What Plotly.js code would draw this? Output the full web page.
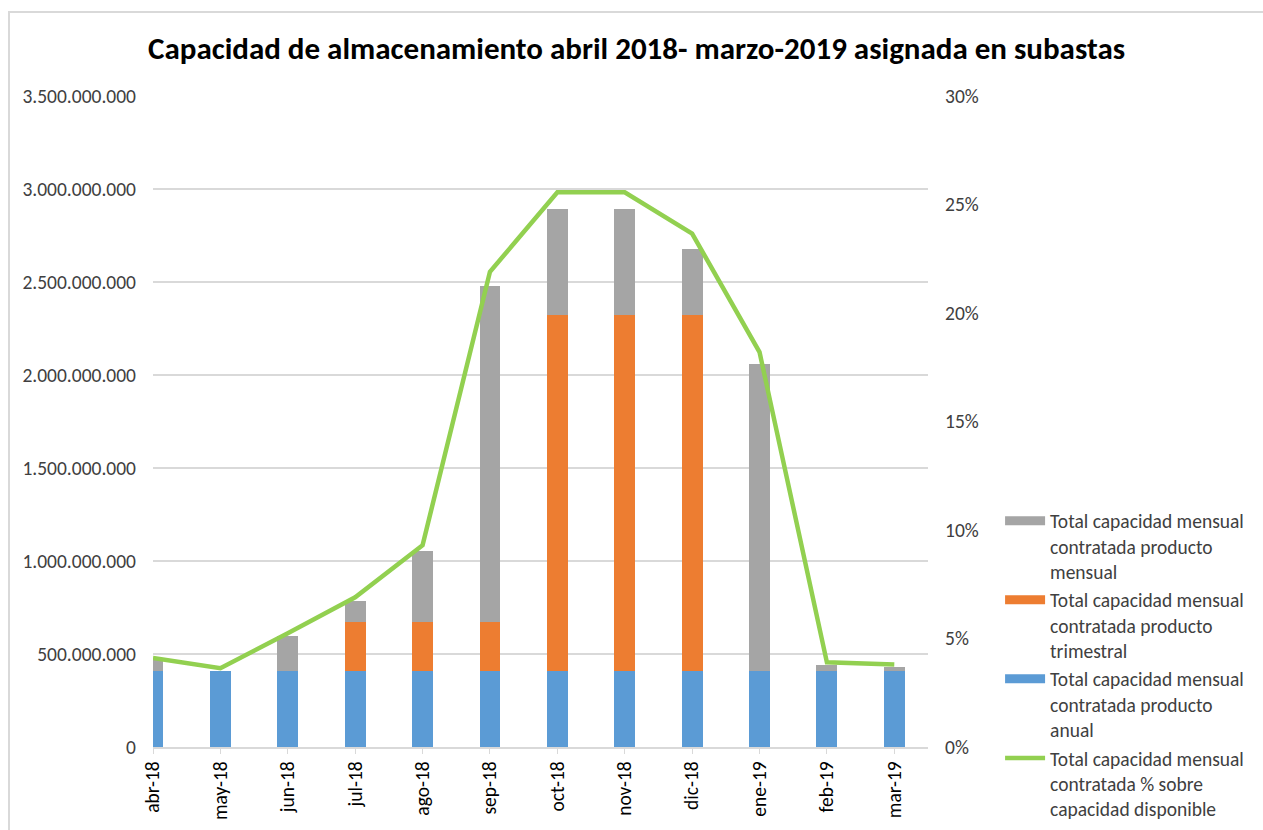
<!DOCTYPE html>
<html>
<head>
<meta charset="utf-8">
<script src="https://cdn.plot.ly/plotly-3.0.1.min.js"></script>
<style>
html,body{margin:0;padding:0;overflow:hidden;background:#fff;}
#wrap{position:relative;width:1263px;height:830px;}
#chart{position:absolute;left:0;top:0;width:1263px;height:830px;}
#frame{position:absolute;left:8px;top:11px;width:1300px;height:900px;border:2px solid #d9d9d9;pointer-events:none;}
</style>
</head>
<body>
<div id="wrap"><div id="chart"></div><div id="frame"></div></div>
<script>
const months = ["abr-18","may-18","jun-18","jul-18","ago-18","sep-18","oct-18","nov-18","dic-18","ene-19","feb-19","mar-19"];
const anual = [411e6,411e6,411e6,411e6,411e6,411e6,411e6,411e6,411e6,411e6,411e6,411e6];
const trimestral = [0,0,0,262e6,262e6,262e6,1913e6,1913e6,1913e6,0,0,0];
const mensual = [58e6,0,184e6,111e6,383e6,1804e6,568e6,568e6,352e6,1650e6,31e6,19e6];
const pctDisponible = [4.1,3.63,5.24,6.9,9.3,21.9,25.56,25.56,23.66,18.2,3.9,3.8];

const names = {
  mensual: "Total capacidad mensual<br>contratada producto<br>mensual",
  trimestral: "Total capacidad mensual<br>contratada producto<br>trimestral",
  anual: "Total capacidad mensual<br>contratada producto<br>anual",
  pct: "Total capacidad mensual<br>contratada % sobre<br>capacidad disponible"
};
const colors = {mensual:"#A5A5A5", trimestral:"#ED7D31", anual:"#5B9BD5", pct:"#92D050"};

const FONT = "Carlito, Lato, 'Open Sans', sans-serif";
const FS = 19.5;

const traces = [
  {type:"bar", x:months, y:anual, name:names.anual, marker:{color:colors.anual}, showlegend:false, hoverinfo:"skip"},
  {type:"bar", x:months, y:trimestral, name:names.trimestral, marker:{color:colors.trimestral}, showlegend:false, hoverinfo:"skip"},
  {type:"bar", x:months, y:mensual, name:names.mensual, marker:{color:colors.mensual}, showlegend:false, hoverinfo:"skip"},
  {type:"scatter", mode:"lines", x:months, y:pctDisponible, yaxis:"y2", name:names.pct,
   line:{color:colors.pct, width:4.5}, legendrank:4, legendgroup:"d", hoverinfo:"skip"},
  // legend keys for the stacked bar series (wide rectangular swatches)
  {type:"scatter", mode:"lines", x:[null], y:[null], name:names.mensual, line:{color:colors.mensual, width:9}, legendrank:1, legendgroup:"a", hoverinfo:"skip"},
  {type:"scatter", mode:"lines", x:[null], y:[null], name:names.trimestral, line:{color:colors.trimestral, width:9}, legendrank:2, legendgroup:"b", hoverinfo:"skip"},
  {type:"scatter", mode:"lines", x:[null], y:[null], name:names.anual, line:{color:colors.anual, width:9}, legendrank:3, legendgroup:"c", hoverinfo:"skip"}
];

const layout = {
  width:1263, height:830,
  margin:{l:153, r:335, t:96, b:83, autoexpand:false},
  paper_bgcolor:"#fff", plot_bgcolor:"#fff",
  separators:",.",
  barmode:"stack", bargap:0.69,
  font:{family:FONT, size:FS, color:"#404040"},
  title:{text:"<b>Capacidad de almacenamiento abril 2018- marzo-2019 asignada en subastas</b>",
         x:0.504, xanchor:"center", y:0.942, yanchor:"middle",
         font:{family:FONT, size:31, color:"#000"}},
  xaxis:{type:"category", range:[0,11.5], showgrid:false, showline:true, linecolor:"#d9d9d9", linewidth:1.5,
         ticks:"outside", ticklen:5, tickcolor:"#d9d9d9", tickangle:-90, automargin:false,
         tickfont:{family:FONT, size:FS, color:"#000"}, zeroline:false, fixedrange:true},
  yaxis:{range:[0,3.5e9], dtick:5e8, tickformat:",d", showgrid:true, gridcolor:"#d9d9d9", gridwidth:1.5,
         zeroline:false, showline:false, ticklabelstandoff:16, automargin:false,
         tickfont:{family:FONT, size:FS, color:"#404040"}, fixedrange:true},
  yaxis2:{overlaying:"y", side:"right", range:[0,30], dtick:5, ticksuffix:"%", showgrid:false,
          zeroline:false, showline:false, ticklabelstandoff:16, automargin:false,
          tickfont:{family:FONT, size:FS, color:"#404040"}, fixedrange:true},
  legend:{x:1.093, xanchor:"left", y:0.377, yanchor:"top", traceorder:"grouped", tracegroupgap:0,
          valign:"top", itemwidth:40, font:{family:FONT, size:FS, color:"#404040"}, bgcolor:"rgba(0,0,0,0)"},
  showlegend:true
};

Plotly.newPlot("chart", traces, layout, {displayModeBar:false, staticPlot:true});
</script>
</body>
</html>
